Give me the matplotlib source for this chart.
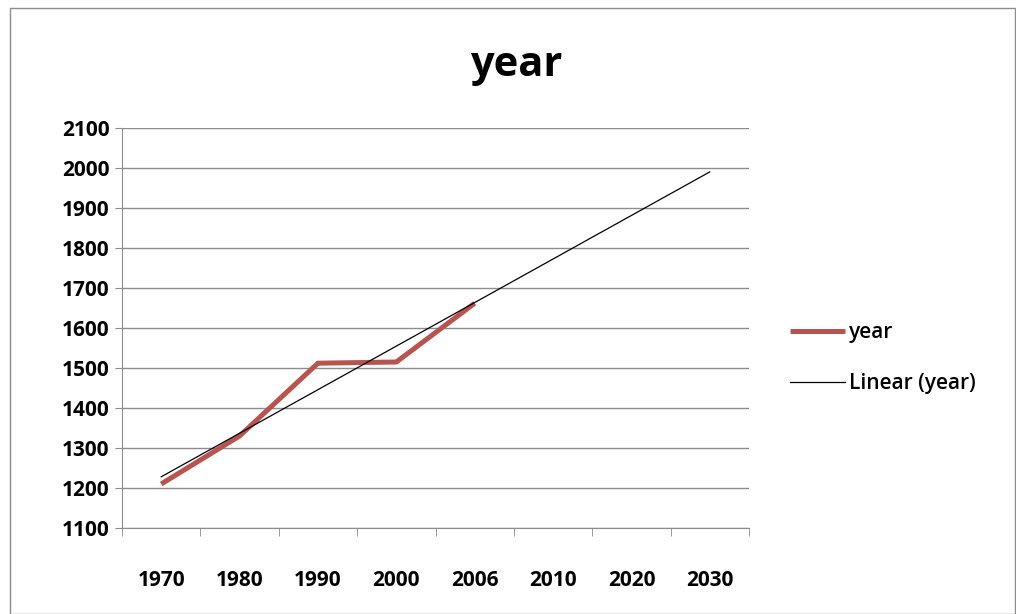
import numpy as np
import matplotlib.pyplot as plt
from matplotlib.patches import Rectangle

# categories on the x axis (Excel line chart, evenly spaced)
years = ["1970", "1980", "1990", "2000", "2006", "2010", "2020", "2030"]
# observed series, only the first five categories have values
year_values = [1210, 1330, 1512, 1515, 1662]

plt.rcParams['font.family'] = ['Open Sans', 'DejaVu Sans']

fig = plt.figure(figsize=(10.16, 6.14), dpi=100)
ax = fig.add_axes([122 / 1016, 1 - 528 / 614, 627 / 1016, 400 / 614])

x_all = np.arange(len(years))
x_obs = np.arange(len(year_values))

# linear trendline fitted on the observed points, extended over all categories
slope, intercept = np.polyfit(x_obs + 1, year_values, 1)
trend = slope * (x_all + 1) + intercept

ax.plot(x_obs, year_values, color='#B85450', lw=3.6, solid_capstyle='butt',
        label='year', zorder=3)
ax.plot(x_all, trend, color='black', lw=0.9, label='Linear (year)', zorder=4)

ax.set_xlim(-0.5, len(years) - 0.5)
ax.set_ylim(1100, 2100)
ax.set_yticks(range(1100, 2101, 100))
ax.yaxis.grid(True, color='#8c8c8c', lw=1.0)
ax.set_axisbelow(True)

ax.set_xticks(x_all)
ax.set_xticklabels(years, fontsize=15, fontweight='bold')
ax.set_xticks(np.arange(-0.5, len(years)), minor=True)
ax.tick_params(axis='x', which='major', length=0, pad=30)
ax.tick_params(axis='x', which='minor', length=6, color='#8c8c8c', direction='out')
ax.tick_params(axis='y', length=5, color='#8c8c8c', labelsize=15, pad=4)
for lab in ax.get_yticklabels():
    lab.set_fontweight('bold')

for side in ['top', 'right']:
    ax.spines[side].set_visible(False)
for side in ['left', 'bottom']:
    ax.spines[side].set_color('#8c8c8c')

fig.text(516 / 1016, 1 - 66 / 614, 'year', ha='center', va='center',
         fontsize=30, fontweight='bold')

leg = ax.legend(loc='center left', bbox_to_anchor=(660 / 627, 1 - 230 / 400),
                frameon=False, fontsize=15, handlelength=2.6, handletextpad=0.2,
                labelspacing=1.45, borderaxespad=0)
for t in leg.get_texts():
    t.set_fontweight('semibold')

# chart area border
fig.patches.append(Rectangle((10 / 1016, 0), 1005 / 1016, 1 - 8 / 614,
                             transform=fig.transFigure, fill=False,
                             edgecolor='#8c8c8c', lw=1))

fig.savefig('out.png', dpi=100)
